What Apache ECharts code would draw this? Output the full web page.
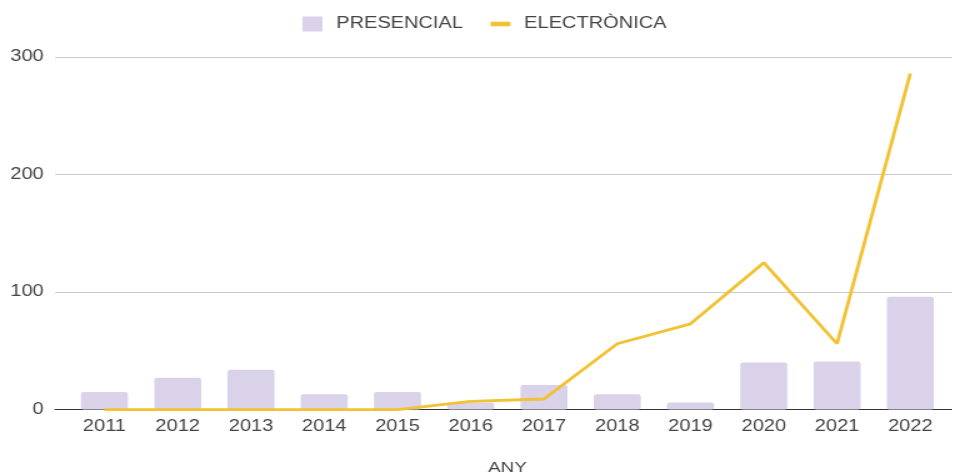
<!DOCTYPE html>
<html>
<head>
<meta charset="utf-8">
<script src="https://cdn.jsdelivr.net/npm/echarts@6/dist/echarts.min.js"></script>
<style>
  html, body { margin: 0; padding: 0; background: #fff; overflow: hidden; }
  /* the chart is laid out narrower and widened horizontally */
  #chart { width: 762.4px; height: 475px; transform: scaleX(1.25); transform-origin: 0 0; }
</style>
</head>
<body>
<div id="chart"></div>
<script>
// Yearly counts by channel
const years = [2011, 2012, 2013, 2014, 2015, 2016, 2017, 2018, 2019, 2020, 2021, 2022];
const presencial = [15, 27, 34, 13, 15, 6, 21, 13, 6, 40, 41, 96];
const electronica = [0, 0, 0, 0, 0, 7, 9, 56, 73, 125, 56, 286];
const yTicks = [0, 100, 200, 300];

const FONT = '"Liberation Sans", Arial, sans-serif';
const TEXT = '#444';

const chart = echarts.init(document.getElementById('chart'));

chart.setOption({
  animation: false,
  textStyle: { fontFamily: FONT },
  grid: { left: 44, right: 0, top: 57, height: 352.6, outerBoundsMode: 'none', containLabel: false },
  legend: {
    left: 237,
    top: 11,
    itemWidth: 16,
    itemHeight: 15,
    itemGap: 22,
    textStyle: { fontFamily: FONT, fontSize: 16, color: TEXT, padding: [0, 0, 0, 6] },
    data: [
      { name: 'PRESENCIAL', icon: 'rect' },
      {
        name: 'ELECTRÒNICA',
        icon: 'path://M0,0H16V4.5H0Z',
        itemStyle: { color: '#f1c232', borderWidth: 0 },
        lineStyle: { width: 0 }
      }
    ]
  },
  xAxis: {
    type: 'value',
    min: 2010.325,
    max: 2022.576,
    name: 'ANY',
    nameLocation: 'middle',
    nameGap: 50.5,
    nameTextStyle: { fontFamily: FONT, fontSize: 15, color: TEXT, padding: [0, 0, 0, 6] },
    axisLine: { show: true, lineStyle: { color: '#333', width: 1 } },
    axisTick: { show: false },
    splitLine: { show: false },
    axisLabel: {
      customValues: years,
      formatter: v => String(v),
      fontFamily: FONT,
      fontSize: 16,
      color: TEXT,
      margin: 8.5
    }
  },
  yAxis: {
    type: 'value',
    min: yTicks[0],
    max: yTicks[yTicks.length - 1],
    interval: yTicks[1] - yTicks[0],
    axisLine: { show: false },
    axisTick: { show: false },
    splitLine: { lineStyle: { color: '#cccccc', width: 1 } },
    axisLabel: { fontFamily: FONT, fontSize: 16, color: TEXT, margin: 9 }
  },
  series: [
    {
      name: 'PRESENCIAL',
      type: 'bar',
      barWidth: 37.6,
      itemStyle: { color: '#d9d2e9', borderRadius: 2 },
      data: years.map((y, i) => [y, presencial[i]])
    },
    {
      name: 'ELECTRÒNICA',
      type: 'line',
      showSymbol: false,
      symbol: 'none',
      itemStyle: { color: '#f1c232' },
      lineStyle: { color: '#f1c232', width: 2.8 },
      data: years.map((y, i) => [y, electronica[i]])
    }
  ]
});
</script>
</body>
</html>
